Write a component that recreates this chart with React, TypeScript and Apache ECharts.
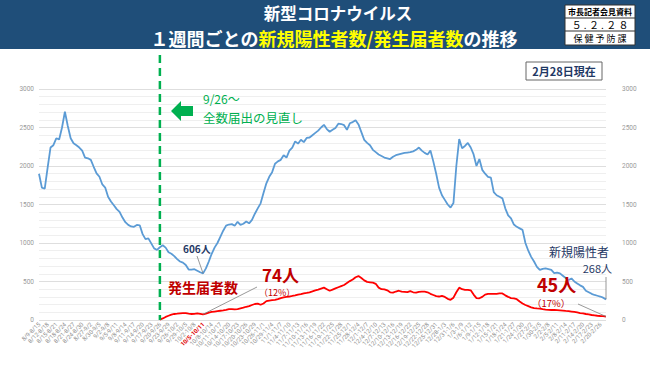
import React, { useEffect, useRef } from "react";
import * as echarts from "echarts";

// 7-day windows: start 8/9 ... 2/22 (end 8/15 ... 2/28)
const categories: string[] = [];
for (let i = 0; i < 198; i++) {
  const s = new Date(2022, 7, 9 + i);
  const e = new Date(2022, 7, 15 + i);
  categories.push(`${s.getMonth() + 1}/${s.getDate()}-${e.getMonth() + 1}/${e.getDate()}`);
}

const newPositive: number[] = [
  1900, 1720, 1705, 1980, 2240, 2270, 2360, 2345, 2500, 2705,
  2520, 2360, 2295, 2270, 2240, 2200, 2110, 2100, 2080, 1990,
  1905, 1860, 1760, 1720, 1600, 1540, 1490, 1440, 1405, 1330,
  1270, 1235, 1215, 1210, 1235, 1230, 1115, 1050, 1060, 995,
  930, 910, 945, 970, 940, 880, 860, 830, 790, 760,
  745, 715, 655, 655, 660, 640, 620, 606, 670, 760,
  860, 940, 1000, 1080, 1160, 1225, 1240, 1245, 1225, 1275,
  1235, 1250, 1280, 1255, 1300, 1380, 1450, 1515, 1650, 1775,
  1860, 1920, 2030, 2060, 2080, 2140, 2110, 2200, 2240, 2320,
  2290, 2340, 2310, 2365, 2370, 2400, 2430, 2460, 2500, 2535,
  2480, 2445, 2470, 2495, 2550, 2545, 2530, 2470, 2555, 2570,
  2595, 2540, 2440, 2340, 2300, 2270, 2210, 2180, 2150, 2130,
  2110, 2100, 2090, 2120, 2140, 2150, 2160, 2170, 2175, 2180,
  2190, 2210, 2240, 2200, 2170, 2150, 2200, 2060, 1900, 1720,
  1620, 1560, 1500, 1460, 1520, 2000, 2350, 2230, 2260, 2300,
  2240, 2150, 2000, 2090, 1950, 1900, 1860, 1850, 1660, 1620,
  1600, 1580, 1450, 1360, 1320, 1240, 1210, 1190, 1170, 1000,
  900, 820, 760, 690, 650, 665, 670, 660, 650, 610,
  615, 605, 575, 545, 520, 540, 500, 475, 450, 430,
  380, 360, 340, 325, 315, 305, 290, 268,
];

const reported: (number | null)[] = [
  null, null, null, null, null, null, null, null, null, null,
  null, null, null, null, null, null, null, null, null, null,
  null, null, null, null, null, null, null, null, null, null,
  null, null, null, null, null, null, null, null, null, null,
  null, null, 5, 20, 40, 55, 70, 78, 82, 87,
  90, 88, 82, 78, 80, 85, 80, 74, 82, 95,
  105, 110, 115, 120, 125, 132, 140, 142, 138, 140,
  150, 160, 172, 180, 195, 208, 212, 198, 215, 245,
  252, 258, 262, 270, 285, 295, 300, 305, 312, 320,
  330, 335, 345, 352, 360, 372, 385, 395, 408, 420,
  400, 380, 395, 410, 425, 440, 455, 480, 505, 525,
  555, 570, 545, 515, 495, 490, 485, 470, 420, 400,
  398, 385, 360, 355, 370, 380, 368, 365, 362, 375,
  360, 355, 365, 368, 368, 360, 340, 325, 310, 305,
  312, 300, 275, 262, 290, 360, 420, 400, 392, 392,
  385, 330, 285, 282, 300, 330, 338, 338, 338, 340,
  345, 345, 320, 300, 285, 280, 270, 240, 215, 195,
  180, 165, 155, 150, 148, 140, 135, 132, 130, 130,
  128, 125, 122, 118, 115, 110, 105, 98, 90, 85,
  78, 72, 65, 60, 55, 52, 50, 45,
];

const yTicks = { min: 0, max: 3000, interval: 500 };
const changeIndex = 42; // 9/20-9/26 window (全数届出の見直し)
const minIndex = 57; // 10/5-10/11
const lastIndex = categories.length - 1;
const highlighted = [minIndex, lastIndex];

const JP = "'Noto Sans CJK JP', 'Noto Sans', sans-serif";
const NAVY = "#1f3864";
const DRED = "#c00000";
const GREEN = "#00b050";

export default function App() {
  const ref = useRef<HTMLDivElement>(null);
  useEffect(() => {
    if (!ref.current) return;
    const chart = echarts.init(ref.current, undefined, { renderer: "svg" });
    const axisY = (pos: "left" | "right", margin: number, grid: boolean) => ({
      type: "value",
      position: pos,
      min: yTicks.min,
      max: yTicks.max,
      interval: yTicks.interval,
      axisLine: { show: false },
      axisTick: { show: false },
      axisLabel: {
        fontSize: 6.5,
        color: "#9a9a9a",
        margin,
        fontFamily: "Roboto",
        formatter: (v: number) => String(v),
      },
      splitLine: { show: grid, lineStyle: { color: "#dedede", width: 1 } },
      minorTick: { show: false, splitNumber: 5 },
      minorSplitLine: { show: grid, lineStyle: { color: "#efefef", width: 1 } },
    });
    chart.setOption({
      animation: false,
      backgroundColor: "#ffffff",
      textStyle: { fontFamily: JP },
      grid: { left: 39, right: 44, top: 89, bottom: 45 },
      xAxis: {
        type: "category",
        data: categories,
        boundaryGap: false,
        axisLine: { show: false },
        axisTick: { show: false },
        splitLine: { show: false },
        axisLabel: {
          interval: (i: number) => i % 3 === 0 || i === lastIndex,
          rotate: 45,
          fontSize: 6,
          color: "#8c8c8c",
          margin: 3,
          fontFamily: "Roboto",
          formatter: (v: string, i: number) => (highlighted.includes(i) ? `{r|${v}}` : v),
          rich: { r: { color: "#e00000", fontWeight: "bold", fontSize: 6, fontFamily: "Roboto" } },
        },
      },
      yAxis: [axisY("left", 5, true), axisY("right", 16, false)],
      series: [
        {
          name: "新規陽性者",
          type: "line",
          data: newPositive,
          showSymbol: false,
          lineStyle: { color: "#5b9bd5", width: 1.8 },
          itemStyle: { color: "#5b9bd5" },
          z: 3,
        },
        {
          name: "発生届者数",
          type: "line",
          data: reported,
          showSymbol: false,
          connectNulls: false,
          lineStyle: { color: "#ff0000", width: 1.8 },
          itemStyle: { color: "#ff0000" },
          z: 4,
        },
      ],
    });

    const px = (i: number, v: number) =>
      chart.convertToPixel({ xAxisIndex: 0, yAxisIndex: 0 }, [i, v]) as number[];
    const lineX = px(changeIndex, 0);
    const minBlue = px(minIndex, newPositive[minIndex]);
    const minRed = px(minIndex, reported[minIndex] as number);
    const lastBlue = px(lastIndex, newPositive[lastIndex]);
    const lastRed = px(lastIndex, reported[lastIndex] as number);

    const leader = (x1: number, y1: number, x2: number, y2: number) => ({
      type: "line",
      shape: { x1, y1, x2, y2 },
      style: { stroke: "#7f7f7f", lineWidth: 0.8 },
      z: 10,
    });
    const txt = (x: number, y: number, text: string, o: any) => ({
      type: "text",
      x,
      y,
      z: 10,
      style: { text, textVerticalAlign: "middle", fontFamily: JP, ...o },
    });

    chart.setOption({
      graphic: [
        { type: "rect", shape: { x: 0, y: 0, width: 650, height: 49 }, style: { fill: "#1f4e79" }, z: 5 },
        txt(338, 12.5, "新型コロナウイルス", {
          textAlign: "center",
          fill: "#ffffff",
          fontSize: 16.5,
          fontWeight: "bold",
        }),
        {
          type: "text",
          x: 334,
          y: 38,
          z: 10,
          style: {
            text: "{w|１週間ごとの}{y|新規陽性者数/発生届者数}{w|の推移}",
            textAlign: "center",
            textVerticalAlign: "middle",
            rich: {
              w: { fill: "#ffffff", fontSize: 18, fontWeight: "bold", fontFamily: JP },
              y: { fill: "#ffff00", fontSize: 18, fontWeight: "bold", fontFamily: JP },
            },
          },
        },
        // press material box
        { type: "rect", shape: { x: 565, y: 5, width: 70, height: 40 }, style: { fill: "#ffffff", stroke: "#333", lineWidth: 1 }, z: 10 },
        { type: "line", shape: { x1: 565, y1: 18, x2: 635, y2: 18 }, style: { stroke: "#333", lineWidth: 1 }, z: 10 },
        { type: "line", shape: { x1: 565, y1: 31, x2: 635, y2: 31 }, style: { stroke: "#333", lineWidth: 1 }, z: 10 },
        txt(600, 11.5, "市長記者会見資料", { textAlign: "center", fill: "#000", fontSize: 8, fontWeight: "bold" }),
        txt(600, 24.5, "５ . ２ . ２ ８", { textAlign: "center", fill: "#000", fontSize: 10 }),
        txt(600, 38, "保 健 予 防 課", { textAlign: "center", fill: "#000", fontSize: 9 }),
        // as-of box
        { type: "rect", shape: { x: 526, y: 62, width: 76, height: 18 }, style: { fill: "#ffffff", stroke: "#666", lineWidth: 1 }, z: 10 },
        txt(564, 71, "2月28日現在", { textAlign: "center", fill: NAVY, fontSize: 11, fontWeight: "bold" }),
        // green dashed line
        {
          type: "line",
          shape: { x1: lineX[0], y1: 55, x2: lineX[0], y2: lineX[1] },
          style: { stroke: GREEN, lineWidth: 2.5, lineDash: [8, 5] },
          z: 8,
        },
        {
          type: "polygon",
          shape: { points: [[171, 111], [181, 101], [181, 106], [193, 106], [193, 116], [181, 116], [181, 121]] },
          style: { fill: GREEN },
          z: 10,
        },
        txt(203, 98, "9/26～", { fill: GREEN, fontSize: 12 }),
        txt(203, 117, "全数届出の見直し", { fill: GREEN, fontSize: 12.5 }),
        // 606
        txt(183, 248, "606人", { fill: NAVY, fontSize: 10, fontWeight: "bold" }),
        leader(197, 256, minBlue[0], minBlue[1]),
        // 発生届者数 / 74
        txt(168, 287, "発生届者数", { fill: DRED, fontSize: 14, fontWeight: "bold" }),
        txt(262, 274, "74人", { fill: DRED, fontSize: 17, fontWeight: "bold" }),
        txt(259, 292.5, "（12%）", { fill: DRED, fontSize: 9 }),
        leader(257, 287, minRed[0], minRed[1]),
        // 新規陽性者 268
        txt(609, 251, "新規陽性者", { textAlign: "right", fill: NAVY, fontSize: 12 }),
        txt(612, 268, "268人", { textAlign: "right", fill: NAVY, fontSize: 11 }),
        leader(lastBlue[0], 277, lastBlue[0], lastBlue[1]),
        // 45
        txt(537, 284, "45人", { fill: DRED, fontSize: 18, fontWeight: "bold" }),
        txt(532, 303, "（17%）", { fill: DRED, fontSize: 9.5 }),
        leader(578, 304, lastRed[0], lastRed[1]),
      ],
    });
    return () => chart.dispose();
  }, []);
  return (
    <div style={{ position: "fixed", left: 0, top: 0, width: 650, height: 365, background: "#fff" }}>
      <div ref={ref} style={{ width: 650, height: 365 }} />
    </div>
  );
}
